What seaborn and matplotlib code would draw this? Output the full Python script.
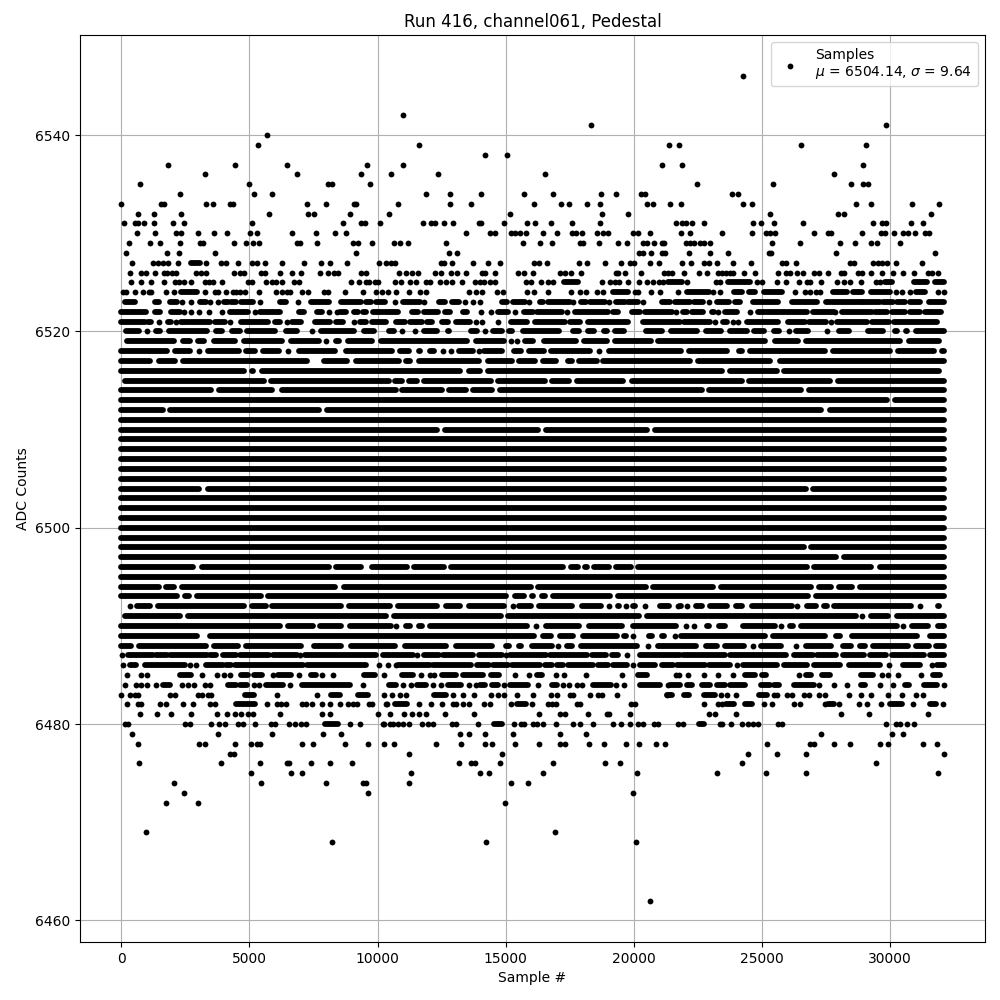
import matplotlib
matplotlib.use("Agg")
import matplotlib.pyplot as plt
import pandas as pd
import seaborn as sns

# Values. A number is one sample; a (first, last) pair is
# a stretch where the dots merge and can no longer be told apart.
# lvNNNN: read at dot centres.  edNNNN: read at the outer edge of the blobs.
lv6546 = [24250]
lv6542 = [11000]
lv6541 = [18350, 29830]
lv6540 = [5690]
lv6539 = [5340, 11630, 21390, 21750, 26550, 29050]
lv6538 = [14210, 15060]
lv6537 = [1820, 4440, 6470, 9600, 11000, 21120, 21900, 28970]
lv6536 = [3270, 6860, 9360, 10530, 12370, 16550, 27800]
lv6535 = [730, 4990, 8070, 8230, 9710, 22490, 25420, 28500, 28970, 29130]
lv6534 = [2290, 5180, 5890, 11900, 12840, 14050, 15730, 16860, 18740, 19320, 20300, 20460, 23850, 24090]
lv6533 = [0, 1540, 1650, 3310, 3580, 4230, 4360, 7250, 7990, 9080, 9180, 10810, 12840, 13660, 16120, 17170,
          17490, 18190, 18700, 20530, 20770, 21430, 21860, 24250, 24600, 28660, 29280, 30850, 31900]
lv6532 = [650, 1280, 2330, 5770, 7290, 7530, 8930, 10450, 15180, 18780, 19790, 25340, 27990, 28190, 31590]
lv6531 = [100, 520, 660, 890, 1280, 2020, 2450, 5100, 8660, 9370, 9500, 10090, 11780, 12100, 12250, 12600, 12950,
          13970, 14050, 14950, 15850, 16160, 16780, 17600, 18700, 21670, 21900, 22060, 22290, 22760, 24640, 24950,
          25460, 26590, 29360, 29680, 29830, 30810, 31280]
lv6530 = [610, 1320, 2130, 2330, 2990, 3620, 4130, 5030, 5300, 6670, 7600, 8350, 8780, 13460, 14400, 14600, 15220,
          15380, 15570, 15810, 16470, 17020, 17600, 17760, 18000, 18580, 18810, 19000, 19990, 20180, 20650, 21860,
          22180, 23460, 24600, 25180, 25340, 25530, 27020, 27600, 27720, 28930, 29640, 29790, 30180, 30500, 30690,
          30970, 31360, 31510]
lv6529 = [300, 1120, 1510, 2290, 3060, 3190, 4400, 4870, 5140, 5380, 6840, 6970, 7640, 9050, 9240, 9790, 10650,
          10880, 11200, 12680, 15690, 16350, 16820, 17900, 18030, 18660, 19400, 19750, 20380, 20530, 20810, 21090,
          21200, 22060, 22210, 22370, 22570, 22760, 22960, 25380, 26510, 28070, 28620, 29280, 29480, 30380]
lv6528 = [180, 1780, 2250, 3660, 9170, 12800, 13110, 20220, 20380, 20690, 21090, 21220, 22140, 22960, 23700,
          25300, 25370, 27880, 31780]
lv6527 = [420, 1240, 1430, 1630, 1820, 2210, (2730, 3060), 3320, 3910, 4100, 4560, 5120, 5310, 5610, 6280, 7130,
          7800, 8150, 8810, 10040, 10350, 10510, 10700, 12490, 12590, 12920, 13740, 14320, 14790, 16120, 16310, 16630,
          17880, 18190, 18890, 19520, 19870, 20030, 20650, 21000, 21900, 22250, 22760, 22940, 23270, 23890, 24560,
          25770, 25960, 26320, 28430, 28580, 29360, 29520, 29710, 29880, 30220, 31240]
lv6526 = [350, 780, 980, 1320, 1650, 1800, 1990, 2120, 2930, 3120, 3320, 4400, 4620, 4780, 5470, 5620, 6200, 6680,
          7020, 7760, 8070, 8310, 8460, 9340, 9540, 10850, 11120, 11340, 11590, 12250, 12460, 12880, 13110, 13460,
          14060, 14190, 14600, 15490, 15730, 16080, 17130, 17330, 17560, 17960, 19320, 19400, 19660, 20300, 21200,
          21350, 21480, 21980, 22530, 22880, 23310, 23440, 23600, 23760, 23890, 24320, 24750, 25650, 25930, 26120,
          26390, 26620, 27020, 27250, 27600, 28110, 28190, 28740, 28910, 29280, 29680, 30110, 30500, 30930, 31470,
          31640, 31860]
lv6525 = [380, 780, 1160, 1670, 2080, 2250, 2450, 2720, 3280, 3420, 3580, 3930, 4950, 5090, 5650, 5890, 6050, 6290,
          6730, 6930, 8960, 9270, 9570, 9670, 9900, 10000, 10690, 10900, 11280, 11500, 11890, 12040, 12450, 12680,
          12920, 13310, 13810, 14000, 14150, 14400, 14580, 15810, 16000, 16390, 16670, 16860, (17290, 17840), 18780,
          19090, 19280, 19440, 19790, 20220, 20530, 20770, 21000, 21160, (21350, 21880), 22100, 23220, 23370,
          (23700, 24550), 24800, 25000, 25610, 25930, 26470, 26750, 26890, 27330, 27920, 28190, 28430, 28890, 29440,
          29600, (29820, 30080), (30960, 31450), (31750, 32100)]
lv6524 = [65, 195, 530, 850, 1080, 1170, 1740, 2060, (2320, 2960), 3280, 3650, 3780, 4100, 4360, 4490, 4620, 4830,
          5380, 6040, 6280, 6470, 6600, 7060, 7290, 7900, 8060, 8740, 9440, 9960, 10160, 10420, 10740, 11240, 11650,
          11910, 13580, 13840, 14090, 14650, 14910, 15850, 16120, 16670, 17560, 17920, 18150, 18580, 18810,
          (19210, 19790), 20050, 20180, 20690, 21030, 21710, (22100, 22920), 23110, 23370, (23930, 24220),
          (24520, 24740), (25070, 25780), 26280, 26690, 26890, 27100, 27280, (27770, 28320), (28560, 28910),
          (29280, 30010), 30250, 30480, 30770, (31030, 31380), 31860, 32100]
lv6523 = [(130, 520), (1300, 1470), (1890, 2170), 2370, 2730, (3060, 3320), 3480, 3780, (4000, 4170), (4300, 4490),
          (4690, 5140), 5420, (6180, 6440), 6900, (7420, 8110), (8590, 9340), (9570, 9730), (9960, 10290), 10680,
          (11000, 11650), 11820, (12410, 12630), (12890, 13180), 13410, 13740, 14020, (14840, 15040), (15270, 15750),
          15920, (16340, 16470), (16670, 17510), 17640, (17940, 18140), (18290, 18880), 19050, (19310, 19660),
          (19790, 20180), 20380, (21090, 21420), (21620, 22200), (22370, 22720), 22920, (23240, 23720),
          (23960, 24150), (24650, 25650), (26170, 27150), (27500, 27670), (27740, 28910), (28970, 29620),
          (29750, 30140), (30270, 30600), (30800, 31190), (31510, 32100)]
lv6522 = [(0, 980), (1300, 1500), (1950, 2280), 2460, 2730, 3030, 3420, 3930, (4230, 4950), 5220, (5430, 6180),
          (6940, 7120), (7620, 7850), 8100, 8400, (8550, 8760), (9080, 9240), (9440, 9570), (9830, 10220),
          (10290, 10810), (11330, 11590), (11820, 12370), (12630, 12830), (13320, 13480), 14050, 14440,
          (14710, 15100), 15380, (15720, 16050), (16210, 17190), 17410, (17710, 19010), (19210, 19400),
          (19950, 20250), (20440, 21490), 21650, (21940, 22070), (22270, 22720), (23050, 23150), 23310,
          (23570, 24020), 24550, (24870, 25910), (25980, 26760), (27000, 27800), 27870, (28130, 29300),
          (29430, 29880), (30080, 30600), (30800, 31190), (31380, 32000)]
lv6521 = [(0, 910), (1040, 1170), 1470, (1820, 1950), 2120, (2340, 2640), (2730, 3450), (3650, 4040), 4240,
          (4690, 5730), (5990, 6180), 6470, (6680, 7030), (7550, 8140), (8370, 8660), 9090, (9310, 9570),
          (9770, 10330), (10740, 11070), (11260, 11720), (11950, 12110), (12500, 12760), (13080, 13610), 13830,
          14070, 14710, (15230, 15820), (16150, 17320), (17510, 17900), (18230, 19790), (20380, 21810), (21970, 22980),
          23180, (23500, 23630), 23890, 24090, (24420, 25650), (26040, 26690), (26860, 27510), 27720, (27930, 29100),
          (29300, 29950), (30180, 31840)]

ed6520 = [(60, 780), 1000, (1260, 1630), (1760, 3450), (3580, 4040), (4230, 4750), (4820, 6120), (6310, 6970), 7450,
          (7680, 9180), (9370, 9960), (10350, 10740), 10940, 11460, (11720, 12430), (12630, 12890), (13540, 14000),
          14180, (14390, 14970), (15040, 15360), (15560, 17190), (17510, 17970), (18100, 18550), (18750, 19070),
          (19180, 19720), (20370, 21220), (21350, 22590), (22720, 23530), (23660, 24520), (24610, 25200), (25390, 25780),
          26080, (26240, 26890), (27150, 27380), 27540, (27900, 28520), (28710, 28950), (29040, 29820), (30080, 30380),
          (30510, 30790), (30920, 32100)]
ed6519 = [(130, 2150), (2320, 2770), (2900, 3320), (3520, 4560), (4690, 6380), (6510, 7810), 8000, (8270, 8590),
          (8760, 9900), (10030, 13600), (13730, 15040), (15100, 15270), 15430, (15660, 16180), (16400, 17840),
          (17970, 19070), (19170, 20770), (20830, 25230), (25420, 26500), (26630, 30510), (30630, 32030)]
ed6518 = [(0, 1890), (1990, 2770), 3030, (3280, 4690), (4750, 5340), (5430, 6250), 6510, (6840, 8460), (8660, 10680),
          (10770, 11330), (11520, 11760), (11940, 12300), 12540, 12850, (13060, 13840), 13970, (14060, 14970),
          (15230, 15690), (15820, 16600), (16670, 18400), 18660, (18940, 21970), (22070, 23760), (24020, 24350),
          (24440, 27580), (27670, 30120), (30210, 31840), (31940, 32100)]
ed6517 = [(0, 1210), (1370, 2210), (2300, 7360), (7450, 7680), (7810, 8920), (9050, 10940), (11000, 11390),
          (11500, 14060), (14220, 15360), (15430, 16270), (16360, 17060), (17320, 17710), (17770, 18660),
          (18710, 22310), (22400, 25430), (25590, 32100)]
ed6516 = [(0, 4880), (5010, 5230), (5380, 13320), (13470, 14100), (14190, 23570), (23670, 25690), (25780, 32030)]
ed6515 = [(30, 5660), (5730, 10550), (10590, 11070), (11130, 11650), (11720, 14520), (14580, 16630), (16700, 17580),
          (17680, 19700), (19830, 24350), (24410, 27770), (27870, 32100)]
ed6514 = [(0, 3610), (3710, 5990), (6160, 10810), (10870, 12630), (12690, 13540), (13630, 14580), (14670, 22760),
          (22850, 26630), (26730, 32100)]
ed6513 = [(0, 30010), (30100, 32100)]
ed6512 = [(0, 1730), (1810, 7810), (7940, 27410), (27570, 32100)]
ed6511 = [(0, 32100)]
ed6510 = [(0, 12430), (12520, 16370), (16470, 20640), (20730, 32100)]
ed6509 = [(0, 32100)]
ed6508 = [(0, 32100)]
ed6507 = [(0, 32100)]
ed6506 = [(0, 32100)]
ed6505 = [(0, 32100)]
ed6504 = [(0, 3120), (3270, 26820), (26910, 32100)]
ed6503 = [(0, 32100)]
ed6502 = [(0, 32100)]
ed6501 = [(0, 32100)]
ed6500 = [(0, 32100)]
ed6499 = [(0, 32100)]
ed6498 = [(0, 26760), (26820, 32100)]
ed6497 = [(0, 28020), (28090, 32100)]
ed6496 = [(0, 2900), (3030, 8200), (8270, 9470), (9670, 11260), (11330, 12720), (12760, 17340), (17450, 17930),
          (18010, 18290), (18360, 19140), (19200, 19990), (20050, 26860), (26940, 29360), (29490, 32100)]
ed6495 = [(0, 32100)]
ed6494 = [(0, 1560), (1630, 2150), (2250, 8460), (8570, 16080), (16170, 20570), (20660, 23220), (23310, 27020),
          (27110, 27800), (27890, 28620), (28710, 32100)]
ed6493 = [(0, 2280), (2370, 2760), (2840, 5560), (5640, 15140), (15260, 15820), (15920, 16170), (16310, 16660),
          (16760, 19180), (19290, 26910), (27020, 32100)]
ed6492 = [330, (490, 1240), (1340, 4880), (5010, 5740), (5790, 8680), (8790, 10610), (10680, 12430), (12560, 13340),
          (13450, 15040), (15190, 15320), (15430, 16080), (16210, 17710), (17880, 18810), (18940, 19140),
          (19270, 19530), 19700, (19850, 20140), 20440, (20930, 21480), 21740, (21710, 21940), 22100, (22310, 22790),
          (22880, 23760), (23890, 24350), (24520, 26300), 26390, (26670, 27240), (27340, 27640), (27730, 30930), 31160,
          (31770, 32030)]
ed6491 = [(30, 2410), (2490, 10420), (10520, 14910), (14970, 20310), (20410, 28780), 28930, (29170, 30040),
          (30180, 32100)]
ed6490 = [(0, 6310), (6420, 7590), (7640, 8680), (8810, 10640), 10740, (11000, 11390), (11500, 11850), (11940, 15950),
          (16080, 16270), (16470, 17970), (18140, 19660), (19850, 21750), 22030, 22370, (22760, 23050), (23240, 23660),
          (24150, 25610), 25740, (25980, 26340), (26430, 30400), 30510, (30770, 31580), (31770, 32100)]
ed6489 = [(0, 3060), (3350, 16210), (16340, 16860), (17030, 17730), (17900, 19460), (19530, 19790), 19990,
          (20500, 20830), (21000, 21290), 21620, (21750, 25220), (25330, 27570), (27800, 28160), (28430, 31160),
          (31450, 32100)]
ed6488 = [(0, 490), (590, 3410), (3520, 4650), (4750, 7120), (7400, 8680), (8850, 10770), (10970, 12760),
          (12950, 14580), (14910, 15230), (15430, 15710), (15920, 16900), 17060, (17280, 17680), (17840, 20250),
          (20440, 20640), (20830, 22530), (22720, 23350), (23440, 24410), 24640, (24870, 25850), 26320, (26630, 27800),
          (28060, 28580), (28740, 29130), (29230, 30820), (30920, 31640), (31710, 32100)]

lv6487 = [40, (260, 1240), (1370, 1800), (1890, 3350), (3450, 3710), (3970, 4490), (4620, 5750), (5920, 6840), 6970,
          (7160, 9960), (10220, 10480), (10580, 11370), 11550, (11810, 12410), (12560, 13710), (13970, 14840), 15000,
          (15170, 16570), (16730, 18160), (18360, 18910), (19140, 19400), 19750, (20250, 21810), (21940, 23570),
          (23760, 25950), (26260, 26990), (27150, 27900), (28170, 29000), (29230, 29860), (30100, 30770),
          (30860, 31320), (31550, 32100)]
lv6486 = [65, (330, 560), (910, 2470), 2670, 2930, (3320, 3950), (4080, 4300), (4430, 7100), (7230, 9570), 10060,
          10420, 10740, (10800, 12040), (12170, 13630), (13870, 14360), (14520, 15100), (15260, 16340), (16540, 16800),
          (17000, 17230), (17450, 18420), (18620, 19010), (19200, 19730), 19960, (20250, 20830), (21090, 21550),
          (21680, 22790), (22920, 23740), 24050, (24250, 25590), (25870, 26760), (27040, 28060), (28390, 29600), 29950,
          (30530, 31190), 31640, (31840, 32100)]
lv6485 = [220, 760, 1020, (2280, 2730), 3150, 3740, 4000, 4240, (4690, 4950), (5180, 5510), 5920, (6120, 6640), 6950,
          (7400, 7590), 7840, 8270, (9480, 9900), 10260, (10940, 11390), 11710, 12040, 12210, (12500, 13060),
          (13350, 14100), (14430, 14750), 15380, 15910, (16240, 16410), 16980, 17290, 18150, 19560, (20180, 20510),
          21650, 21750, 22120, 22760, 23310, 23890, (24350, 24740), (25010, 25170), 26470, (26730, 26910),
          (27340, 27670), (28880, 29360), 29680, 29910, 30300, 31200, (31680, 31940)]
lv6484 = [160, 560, 780, 1020, 1370, (1630, 1910), 2370, 2600, 2830, 3280, 3450, (4170, 4490), (4650, 4920), 5180,
          5380, (5640, 6310), 6590, (7070, 8920), 9440, (10440, 10740), 11000, 11300, (11550, 11910), 12170, 12470,
          (12760, 13250), 13580, 13830, (14000, 14190), (14450, 14710), 14950, (15170, 15880), 16270, (16800, 16990),
          17230, 17470, 17800, 18000, (18420, 19100), 19320, 19630, (20250, 21030), 21350, (21420, 21790),
          (22100, 22290), (22680, 22960), (23270, 23570), (23760, 24350), (24980, 25330), (25480, 25690),
          (26240, 27020), 27250, 27800, 28310, (28890, 29040), 29600, 30140, (30600, 30730), (31320, 31840), 32100]
lv6483 = [0, 350, 520, 650, 1910, 2110, 2990, 3150, 3390, 3520, (4840, 5180), 6080, 7640, (8200, 8550), (9240, 9610),
          10260, 10570, 10870, 11130, (12200, 12690), 12950, 13350, 13780, 14440, 14710, 14950, 15450, 16080, 16780,
          17020, 17510, 17620, 18280, 18620, 18780, 19360, 21310, (21290, 21490), (21980, 22140), (22760, 23180),
          23390, 23660, 24010, (24910, 25220), 25460, 25610, 26000, 26170, 26630, 26860, 27250, 27450, 28390, 28890,
          29250, 29910, 30460, 31000, 31280]
lv6482 = [220, 650, 780, 1510, 1740, 2410, 2790, 3460, 3670, (4470, 5210), 5690, 6080, 6250, 6420, 7060, 7200, 7450,
          7840, 8140, 8530, 8850, 9050, 9210, 9670, 9800, 10350, 10380, (10680, 11160), 11630, 12100, 12530, 12950,
          13080, 13350, 13580, 14150, 14390, 15220, (15450, 15780), 16040, 16670, 16820, 16980, 17800, 17900, 19910,
          20060, 22760, 23310, 23460, (23600, 23920), (24350, 24610), 25100, 25390, 26240, 26510, 27450, (27600, 27800),
          28000, 28780, 29090, 29640, (29990, 30470), 30910, (31550, 31810), 32060]
lv6481 = [730, 1390, 1940, 2720, 3740, 4130, 4440, 4670, 4950, 5140, 6200, 7840, 8150, 10030, 10490, 11040, 11350,
          11630, 11900, 12640, 13780, 16310, 17130, 17320, 18230, 18940, 19050, 19870, 22920, 23190, 24010, 28110,
          29170, 31470]
lv6480 = [130, 260, 2470, 2670, 3500, 3810, 4060, 4560, 4750, 5220, 5860, 5990, 6550, 6770, 7000, 7190, (7940, 8460),
          8930, 9320, 10220, 10260, 10480, 10590, 10810, 11000, 11240, 11740, 11980, 12170, 12890, 13050, 13930,
          (14560, 14850), 15340, 15590, 15720, 16080, 16240, 16470, 16980, 17640, 17920, 18420, 19210, 19520, 19870,
          20180, 20380, 20810, 20960, 21710, 21940, (22530, 22760), 23350, 23460, 23780, 24210, 24480, 24650, 24870,
          25650, 25780, 29830, 30250, 30380, 30650, 30930]
lv6479 = [420, 3780, 5890, 7880, 8580, 13230, 13580, 14210, 15300, 17130, 18150, 27330, 30070, 30530]
lv6478 = [650, 3030, 3270, 4440, 5060, 5300, 5400, 7060, 7490, 8740, 9630, 10260, 10650, 12290, 13270, 14210, 14450,
          15380, 16310, 17130, 17330, 18270, 18850, 19710, 20220, 20880, 21240, 25220, 26890, 27020, 27800, 28430,
          29600, 29910, 31280, 31820]
lv6477 = [4240, 4400, 11240, 14870, 24480, 25610, 26710, 32100]
lv6476 = [690, 3890, 5420, 6450, 6540, 7410, 8150, 9010, 13190, 13630, 13800, 14790, 16860, 18890, 19480, 24210, 29440]
lv6475 = [5060, 6630, 7060, 11310, 14010, 14360, 16470, 20140, 23270, 25180, 26710, 31860]
lv6474 = [2060, 5460, 7990, 9440, 9540, 11240, 15220, 15880]
lv6473 = [2450, 9630, 19990]
lv6472 = [1740, 2990, 14990]
lv6469 = [960, 16940]
lv6468 = [8230, 14240, 20100]
lv6462 = [20650]

TITLE = "Run 416, channel061, Pedestal"
XLABEL = "Sample #"
YLABEL = "ADC Counts"
LEGEND_LABEL = "Samples\n$\\mu$ = 6504.14, $\\sigma$ = 9.64"

MARKER_PT = 4.2       # outer diameter of one dot, in points
EDGE_TRIM = 105       # half a dot in samples, for stretches read at their outer edge
X_MAX = 32100

namespace = dict(globals())
dots, stretches = [], []
for name, entries in namespace.items():
    if not (name[:2] in ("lv", "ed") and name[2:].isdigit()):
        continue
    level = int(name[2:])
    trim = EDGE_TRIM if name.startswith("ed") else 0
    for entry in entries:
        if isinstance(entry, tuple):
            a, b = entry
            a = a + trim if a > 0 else a
            b = b - trim if b < X_MAX else b
            if a >= b:
                dots.append((min(a, X_MAX), level))
            else:
                stretches.append((a, b, level))
        else:
            dots.append((min(entry, X_MAX), level))

dot_df = pd.DataFrame(dots, columns=["sample", "adc"])
span_rows = []
for i, (a, b, level) in enumerate(stretches):
    span_rows.append((i, a, level))
    span_rows.append((i, b, level))
span_df = pd.DataFrame(span_rows, columns=["span", "sample", "adc"])

fig, ax = plt.subplots(figsize=(10, 10), dpi=100)
sns.lineplot(data=span_df, x="sample", y="adc", units="span", estimator=None, sort=False,
             color="k", linewidth=MARKER_PT, solid_capstyle="round", legend=False, ax=ax)
sns.scatterplot(data=dot_df, x="sample", y="adc", color="k", s=MARKER_PT ** 2,
                linewidth=0, marker="o", label=LEGEND_LABEL, zorder=3, ax=ax)

ax.grid(True)
ax.set_title(TITLE)
ax.set_xlabel(XLABEL)
ax.set_ylabel(YLABEL)
ax.legend(loc="upper right")
fig.subplots_adjust(left=0.0802, right=0.9848, top=0.965, bottom=0.058)
fig.savefig("out.png", dpi=100)
